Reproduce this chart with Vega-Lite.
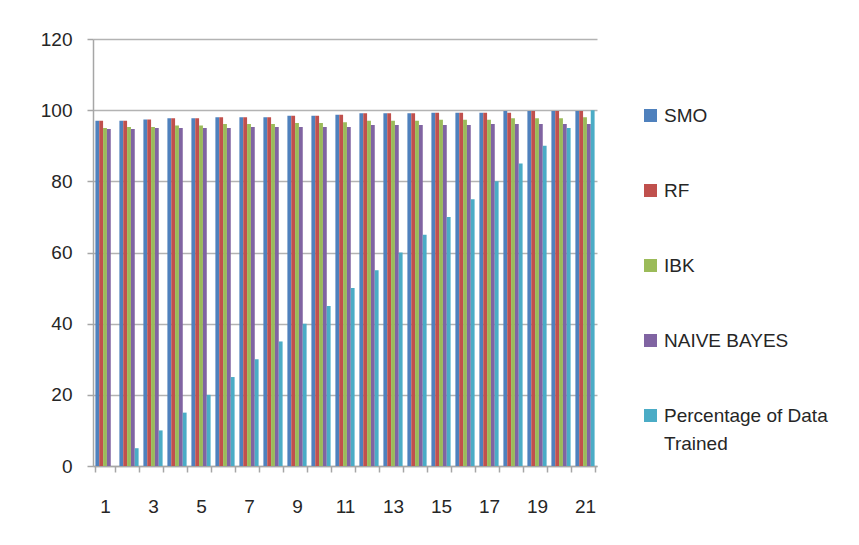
{
  "$schema": "https://vega.github.io/schema/vega-lite/v6.json",
  "autosize": {"type": "none"},
  "padding": {"left": 93, "top": 39, "right": 262, "bottom": 79},
  "width": 504,
  "height": 427,
  "background": "white",
  "data": {
    "values": [
      {"n": 1, "SMO": 97.0, "RF": 97.0, "IBK": 95.0, "NB": 94.7, "PCT": 0},
      {"n": 2, "SMO": 97.0, "RF": 97.0, "IBK": 95.3, "NB": 94.7, "PCT": 5},
      {"n": 3, "SMO": 97.4, "RF": 97.4, "IBK": 95.3, "NB": 95.0, "PCT": 10},
      {"n": 4, "SMO": 97.7, "RF": 97.7, "IBK": 95.7, "NB": 95.0, "PCT": 15},
      {"n": 5, "SMO": 97.7, "RF": 97.7, "IBK": 95.7, "NB": 95.0, "PCT": 20},
      {"n": 6, "SMO": 98.0, "RF": 98.0, "IBK": 96.1, "NB": 95.0, "PCT": 25},
      {"n": 7, "SMO": 98.0, "RF": 98.0, "IBK": 96.1, "NB": 95.3, "PCT": 30},
      {"n": 8, "SMO": 98.0, "RF": 98.0, "IBK": 96.1, "NB": 95.3, "PCT": 35},
      {"n": 9, "SMO": 98.4, "RF": 98.4, "IBK": 96.4, "NB": 95.3, "PCT": 40},
      {"n": 10, "SMO": 98.4, "RF": 98.4, "IBK": 96.4, "NB": 95.3, "PCT": 45},
      {"n": 11, "SMO": 98.7, "RF": 98.7, "IBK": 96.6, "NB": 95.3, "PCT": 50},
      {"n": 12, "SMO": 99.1, "RF": 99.1, "IBK": 97.0, "NB": 95.8, "PCT": 55},
      {"n": 13, "SMO": 99.1, "RF": 99.1, "IBK": 97.0, "NB": 95.8, "PCT": 60},
      {"n": 14, "SMO": 99.1, "RF": 99.1, "IBK": 97.0, "NB": 95.8, "PCT": 65},
      {"n": 15, "SMO": 99.3, "RF": 99.3, "IBK": 97.3, "NB": 95.8, "PCT": 70},
      {"n": 16, "SMO": 99.3, "RF": 99.3, "IBK": 97.3, "NB": 95.8, "PCT": 75},
      {"n": 17, "SMO": 99.3, "RF": 99.3, "IBK": 97.3, "NB": 96.1, "PCT": 80},
      {"n": 18, "SMO": 99.8, "RF": 99.3, "IBK": 97.7, "NB": 96.1, "PCT": 85},
      {"n": 19, "SMO": 99.8, "RF": 99.8, "IBK": 97.7, "NB": 96.1, "PCT": 90},
      {"n": 20, "SMO": 99.8, "RF": 99.8, "IBK": 97.7, "NB": 96.1, "PCT": 95},
      {"n": 21, "SMO": 99.8, "RF": 99.8, "IBK": 98.0, "NB": 96.1, "PCT": 100}
    ]
  },
  "transform": [
    {"fold": ["SMO", "RF", "IBK", "NB", "PCT"], "as": ["series", "value"]}
  ],
  "mark": {"type": "bar"},
  "encoding": {
    "x": {
      "field": "n",
      "type": "ordinal",
      "scale": {"paddingInner": 0.2, "paddingOuter": 0.1},
      "axis": {
        "title": null,
        "labelAngle": 0,
        "tickBand": "extent",
        "labelExpr": "datum.value % 2 == 1 ? datum.label : ''",
        "labelPadding": 25
      }
    },
    "xOffset": {
      "field": "series",
      "type": "nominal",
      "sort": ["SMO", "RF", "IBK", "NB", "PCT"],
      "scale": {"paddingInner": 0, "paddingOuter": 0}
    },
    "y": {
      "field": "value",
      "type": "quantitative",
      "scale": {"domain": [0, 120], "nice": false},
      "axis": {
        "title": null,
        "values": [0, 20, 40, 60, 80, 100, 120],
        "grid": true,
        "labelPadding": 15
      }
    },
    "color": {
      "field": "series",
      "type": "nominal",
      "sort": ["SMO", "RF", "IBK", "NB", "PCT"],
      "scale": {
        "domain": ["SMO", "RF", "IBK", "NB", "PCT"],
        "range": ["#4F81BD", "#C0504D", "#9BBB59", "#8064A2", "#4BACC6"]
      },
      "legend": {
        "title": null,
        "orient": "none",
        "legendX": 548,
        "legendY": 67,
        "symbolType": "square",
        "symbolSize": 169,
        "symbolStrokeWidth": 0,
        "labelFontSize": 19,
        "labelFont": "Liberation Sans",
        "labelColor": "#262626",
        "labelOffset": 4,
        "labelLimit": 300,
        "labelBaseline": "middle",
        "rowPadding": 55,
        "labelExpr": "datum.label == 'NB' ? 'NAIVE BAYES' : datum.label == 'PCT' ? ['Percentage of Data', 'Trained'] : datum.label",
        "encode": {
          "labels": {"update": {"lineHeight": {"value": 28}}}
        }
      }
    }
  },
  "config": {
    "view": {"stroke": null},
    "font": "Liberation Sans",
    "axis": {
      "labelFont": "Liberation Sans",
      "labelFontSize": 19,
      "labelColor": "#262626",
      "domainColor": "#a6a6a6",
      "domainWidth": 1.5,
      "tickColor": "#a6a6a6",
      "tickWidth": 1.5,
      "tickSize": 6,
      "gridColor": "#b3b3b3",
      "gridWidth": 1.5
    },
    "axisX": {"grid": false}
  }
}
